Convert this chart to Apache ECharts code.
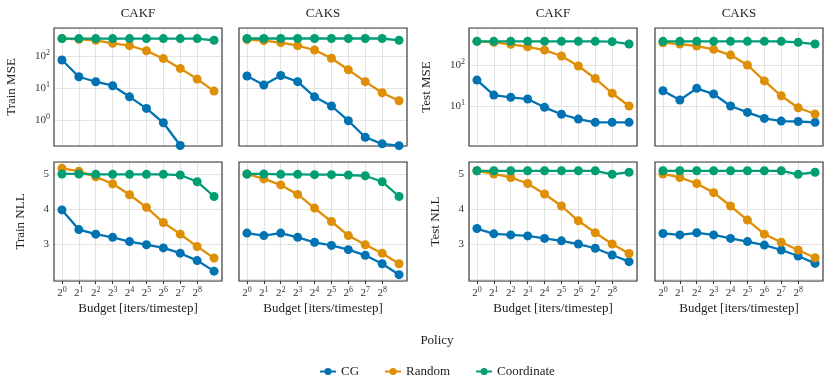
<!DOCTYPE html>
<html>
<head>
<meta charset="utf-8">
<script src="https://cdn.jsdelivr.net/npm/echarts@6/dist/echarts.min.js"></script>
<style>
  html, body { margin: 0; padding: 0; background: #fff; }
</style>
</head>
<body>
<div id="container" style="width:830px;height:386px"></div>
<script>
// budget exponents: 2^0 ... 2^9 (last one has no label)
const budgetExp = [0, 1, 2, 3, 4, 5, 6, 7, 8, 9];
const policies = ['CG', 'Random', 'Coordinate'];
const colTitles = ['CAKF', 'CAKS', 'CAKF', 'CAKS'];

// Train MSE
const trainMseCAKF_CG = [75, 22.5, 15.7, 11.8, 5.3, 2.3, 0.82, 0.16, 0.05, 0.02];
const trainMseCAKF_Random = [350, 332, 310, 250, 210, 146, 83, 41, 19, 8];
const trainMseCAKF_Coord = [350, 350, 350, 350, 350, 350, 350, 350, 350, 310];
const trainMseCAKS_CG = [23.7, 12.4, 24.5, 15.8, 5.3, 2.74, 0.95, 0.29, 0.18, 0.158];
const trainMseCAKS_Random = [324, 301, 261, 210, 154, 85, 37, 15.8, 7.1, 4.0];
const trainMseCAKS_Coord = [352, 352, 352, 352, 352, 352, 352, 352, 352, 310];

// Test MSE
const testMseCAKF_CG = [43, 18.5, 16.3, 14.8, 9.3, 6.3, 4.8, 4.0, 4.0, 4.0];
const testMseCAKF_Random = [378, 358, 320, 279, 232, 166, 94.5, 47, 20.5, 10];
const testMseCAKF_Coord = [378, 378, 378, 378, 378, 378, 378, 378, 372, 325];
const testMseCAKS_CG = [23.6, 14, 27, 19.6, 10, 7.0, 5.0, 4.3, 4.2, 4.0];
const testMseCAKS_Random = [350, 325, 291, 241, 175, 100, 41, 17.8, 9.1, 6.4];
const testMseCAKS_Coord = [378, 378, 378, 378, 378, 378, 378, 378, 358, 325];

// Train NLL
const trainNllCAKF_CG = [3.98, 3.42, 3.29, 3.20, 3.08, 2.99, 2.90, 2.75, 2.54, 2.24];
const trainNllCAKF_Random = [5.16, 5.08, 4.92, 4.72, 4.41, 4.05, 3.62, 3.29, 2.94, 2.61];
const trainNllCAKF_Coord = [5.0, 5.0, 4.99, 4.99, 4.99, 4.99, 4.99, 4.97, 4.78, 4.36];
const trainNllCAKS_CG = [3.32, 3.25, 3.32, 3.20, 3.06, 2.97, 2.85, 2.69, 2.45, 2.14];
const trainNllCAKS_Random = [5.0, 4.86, 4.69, 4.42, 4.03, 3.65, 3.25, 2.99, 2.75, 2.45];
const trainNllCAKS_Coord = [5.0, 5.0, 4.99, 4.99, 4.98, 4.98, 4.97, 4.95, 4.78, 4.36];

// Test NLL
const testNllCAKF_CG = [3.45, 3.30, 3.27, 3.24, 3.17, 3.10, 3.01, 2.89, 2.70, 2.51];
const testNllCAKF_Random = [5.09, 5.0, 4.90, 4.73, 4.43, 4.09, 3.67, 3.33, 3.01, 2.74];
const testNllCAKF_Coord = [5.09, 5.09, 5.09, 5.09, 5.09, 5.09, 5.09, 5.09, 4.99, 5.05];
const testNllCAKS_CG = [3.31, 3.27, 3.33, 3.27, 3.17, 3.08, 2.98, 2.84, 2.67, 2.46];
const testNllCAKS_Random = [5.0, 4.90, 4.73, 4.47, 4.09, 3.69, 3.29, 3.06, 2.84, 2.62];
const testNllCAKS_Coord = [5.09, 5.09, 5.09, 5.09, 5.09, 5.09, 5.09, 5.09, 4.99, 5.05];

const colors = ['#0173b2', '#de8f05', '#029e73'];
const FONT = 'Liberation Serif';

// panel list: row, col, y label, data
const panels = [
  {row: 0, col: 0, name: 'Train MSE', data: [trainMseCAKF_CG, trainMseCAKF_Random, trainMseCAKF_Coord]},
  {row: 0, col: 1, name: '', data: [trainMseCAKS_CG, trainMseCAKS_Random, trainMseCAKS_Coord]},
  {row: 0, col: 2, name: 'Test MSE', data: [testMseCAKF_CG, testMseCAKF_Random, testMseCAKF_Coord]},
  {row: 0, col: 3, name: '', data: [testMseCAKS_CG, testMseCAKS_Random, testMseCAKS_Coord]},
  {row: 1, col: 0, name: 'Train NLL', data: [trainNllCAKF_CG, trainNllCAKF_Random, trainNllCAKF_Coord]},
  {row: 1, col: 1, name: '', data: [trainNllCAKS_CG, trainNllCAKS_Random, trainNllCAKS_Coord]},
  {row: 1, col: 2, name: 'Test NLL', data: [testNllCAKF_CG, testNllCAKF_Random, testNllCAKF_Coord]},
  {row: 1, col: 3, name: '', data: [testNllCAKS_CG, testNllCAKS_Random, testNllCAKS_Coord]}
];

const colLeft = [54, 239, 469, 655];
const rowTop = [28, 162];
const rowHeight = [118, 119];
const panelWidth = 168;

const supRich = {
  b: {fontFamily: FONT, fontSize: 11, color: '#333', lineHeight: 14},
  s: {fontFamily: FONT, fontSize: 8, color: '#333', verticalAlign: 'top', lineHeight: 8}
};

function isPow10(v) {
  const e = Math.log10(v);
  return Math.abs(e - Math.round(e)) < 1e-6;
}

let grid = [], xAxis = [], yAxis = [], series = [];

panels.forEach(function (p, i) {
  const showYLabels = (p.col === 0 || p.col === 2);
  const bottomRow = p.row === 1;
  // frame drawn above the grid lines, series on top of it
  grid.push({
    left: colLeft[p.col], top: rowTop[p.row], width: panelWidth, height: rowHeight[p.row],
    show: true, z: 5, borderColor: '#3a3a3a', borderWidth: 1.2, backgroundColor: 'transparent'
  });

  xAxis.push({
    type: 'value', gridIndex: i, min: -0.47, max: 9.47, splitNumber: 10,
    name: bottomRow ? 'Budget [iters/timestep]' : '',
    nameLocation: 'middle', nameGap: 21,
    nameTextStyle: {fontFamily: FONT, fontSize: 13, color: '#222'},
    axisLine: {show: false},
    axisTick: {show: bottomRow, length: 3, customValues: budgetExp.slice(0, 9),
      lineStyle: {color: '#333'}},
    axisLabel: {
      show: bottomRow, margin: 5,
      customValues: budgetExp.slice(0, 9),
      formatter: function (v) {
        if (!Number.isInteger(v) || v > 8 || v < 0) return '';
        return '{b|2}{s|' + v + '}';
      },
      rich: supRich
    },
    splitLine: {show: true, lineStyle: {color: '#e3e3e3', width: 1}}
  });

  let y;
  if (p.row === 0) {
    const lo = p.col < 2 ? 0.154 : 1.06;
    const hi = p.col < 2 ? 750 : 800;
    y = {
      type: 'log', logBase: 10, min: lo, max: hi,
      axisLabel: {
        show: showYLabels, margin: 4, showMinLabel: false, showMaxLabel: false,
        formatter: function (v) {
          if (!isPow10(v)) return '';
          return '{b|10}{s|' + Math.round(Math.log10(v)) + '}';
        },
        rich: supRich
      }
    };
  } else {
    y = {
      type: 'value', min: 1.96, max: 5.34, splitNumber: 3,
      axisLabel: {
        show: showYLabels, margin: 5, showMinLabel: false, showMaxLabel: false,
        fontFamily: FONT, fontSize: 11, color: '#333',
        formatter: function (v) {
          return (v >= 3 && Number.isInteger(v)) ? String(v) : '';
        }
      }
    };
  }
  Object.assign(y, {
    gridIndex: i,
    name: p.name, nameLocation: 'middle', nameRotate: 90,
    nameGap: p.row === 0 ? 36 : 27,
    nameTextStyle: {fontFamily: FONT, fontSize: 13, color: '#222'},
    axisLine: {show: false},
    axisTick: {show: false},
    splitLine: {show: true, lineStyle: {color: '#e3e3e3', width: 1}}
  });
  yAxis.push(y);

  p.data.forEach(function (vals, k) {
    series.push({
      name: policies[k], type: 'line', xAxisIndex: i, yAxisIndex: i,
      data: budgetExp.map(function (x, j) { return [x, vals[j]]; }),
      symbol: 'circle', symbolSize: 9, clip: true,
      itemStyle: {color: colors[k]},
      lineStyle: {color: colors[k], width: 2.3},
      z: 10 + k
    });
  });
});

// panel titles and the legend title
const graphic = colTitles.map(function (t, c) {
  return {
    type: 'text', x: colLeft[c] + panelWidth / 2, y: 14,
    style: {text: t, align: 'center', verticalAlign: 'middle', font: '13px "' + FONT + '"', fill: '#222'}
  };
});
graphic.push({
  type: 'text', x: 437, y: 341,
  style: {text: 'Policy', align: 'center', verticalAlign: 'middle', font: '13px "' + FONT + '"', fill: '#222'}
});

const chart = echarts.init(document.getElementById('container'));
chart.setOption({
  animation: false,
  backgroundColor: '#fff',
  textStyle: {fontFamily: FONT},
  grid: grid,
  xAxis: xAxis,
  yAxis: yAxis,
  graphic: graphic,
  legend: {
    data: policies, left: 314, top: 360, itemWidth: 16, itemHeight: 9, itemGap: 25,
    textStyle: {fontFamily: FONT, fontSize: 13, color: '#222'}
  },
  series: series
});
</script>
</body>
</html>
